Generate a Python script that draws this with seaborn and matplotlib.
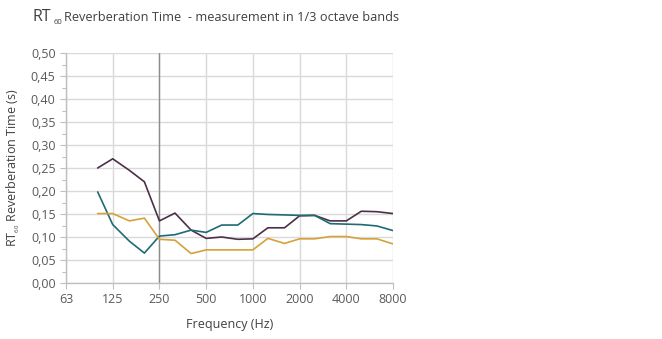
import matplotlib
matplotlib.use("Agg")
import matplotlib.pyplot as plt
import matplotlib.ticker as mticker
import seaborn as sns
import pandas as pd

freqs = [100, 125, 160, 200, 250, 315, 400, 500, 630, 800, 1000, 1250, 1600,
         2000, 2500, 3150, 4000, 5000, 6300, 8000]
series_a = [0.25, 0.27, 0.245, 0.22, 0.135, 0.152, 0.115, 0.097, 0.10, 0.095,
            0.096, 0.12, 0.12, 0.146, 0.147, 0.135, 0.135, 0.156, 0.155, 0.151]
series_b = [0.198, 0.127, 0.091, 0.065, 0.102, 0.105, 0.115, 0.11, 0.126, 0.126,
            0.151, 0.149, 0.148, 0.147, 0.147, 0.129, 0.128, 0.127, 0.124, 0.114]
series_c = [0.151, 0.151, 0.135, 0.141, 0.095, 0.093, 0.064, 0.072, 0.072, 0.072,
            0.072, 0.097, 0.086, 0.096, 0.096, 0.101, 0.101, 0.096, 0.096, 0.085]
series_names = ["Series A", "Series B", "Series C"]
tick_freqs = [62.5, 125, 250, 500, 1000, 2000, 4000, 8000]
tick_labels = ["63", "125", "250", "500", "1000", "2000", "4000", "8000"]
colors = ["#4d2f47", "#1f6b74", "#d5a23a"]

df = pd.concat([
    pd.DataFrame({"freq": freqs, "rt": vals, "series": name})
    for name, vals in zip(series_names, [series_a, series_b, series_c])
])

sns.set_theme(style="white")
plt.rcParams["font.family"] = ["Open Sans", "DejaVu Sans"]
plt.rcParams["mathtext.fontset"] = "custom"
plt.rcParams["mathtext.rm"] = "Open Sans"
plt.rcParams["mathtext.it"] = "Open Sans"
plt.rcParams["mathtext.bf"] = "Open Sans"

fig = plt.figure(figsize=(6.62, 3.39), dpi=100)
ax = fig.add_axes([66 / 662, 1 - 283 / 339, (393 - 66) / 662, (283 - 53) / 339])

sns.lineplot(data=df, x="freq", y="rt", hue="series", palette=colors,
             legend=False, linewidth=1.2, ax=ax, zorder=3)

ax.set_xscale("log", base=2)
ax.set_xlim(62.5, 8000)
ax.set_ylim(0, 0.5)
ax.set_xticks(tick_freqs)
ax.set_xticklabels(tick_labels)
ax.xaxis.set_minor_locator(mticker.NullLocator())
ax.yaxis.set_major_locator(mticker.MultipleLocator(0.05))
ax.yaxis.set_minor_locator(mticker.MultipleLocator(0.025))
ax.yaxis.set_major_formatter(mticker.FuncFormatter(lambda v, p: f"{v:.2f}".replace(".", ",")))

ax.grid(True, which="major", axis="both", color="#d9d9d9", linewidth=1.0, zorder=0)
for s in ["top", "right"]:
    ax.spines[s].set_visible(False)
for s in ["left", "bottom"]:
    ax.spines[s].set_color("#bfbfbf")
    ax.spines[s].set_linewidth(1.0)
ax.axvline(250, color="#8c8c8c", linewidth=1.0, zorder=1)

ax.tick_params(axis="both", which="major", labelsize=9, length=4, width=0.8,
               direction="out", left=True, bottom=True, colors="#bfbfbf",
               labelcolor="#595959")
ax.tick_params(axis="y", which="minor", length=3, width=0.8, colors="#bfbfbf", left=True)

ax.set_xlabel("Frequency (Hz)", fontsize=9, color="#404040", labelpad=8)
ax.set_ylabel(r"RT$_{_{60}}$ Reverberation Time (s)", fontsize=9, color="#404040", labelpad=6)

# Title built from pieces: large "RT", small subscript "60", then the rest
renderer = fig.canvas.get_renderer()
base_y = 1 - 21 / 339
x0 = 32 / 662
t1 = fig.text(x0, base_y, "RT", fontsize=11.5, color="#404040", va="baseline", ha="left")
w1 = t1.get_window_extent(renderer).width / fig.bbox.width
t2 = fig.text(x0 + w1 + 3 / 662, base_y - 3 / 339, "60", fontsize=5.5, color="#404040",
              va="baseline", ha="left")
w2 = t2.get_window_extent(renderer).width / fig.bbox.width
fig.text(x0 + w1 + 3 / 662 + w2 + 2 / 662, base_y,
         "Reverberation Time  - measurement in 1/3 octave bands",
         fontsize=9.2, color="#404040", va="baseline", ha="left")

fig.savefig("out.png", dpi=100)
